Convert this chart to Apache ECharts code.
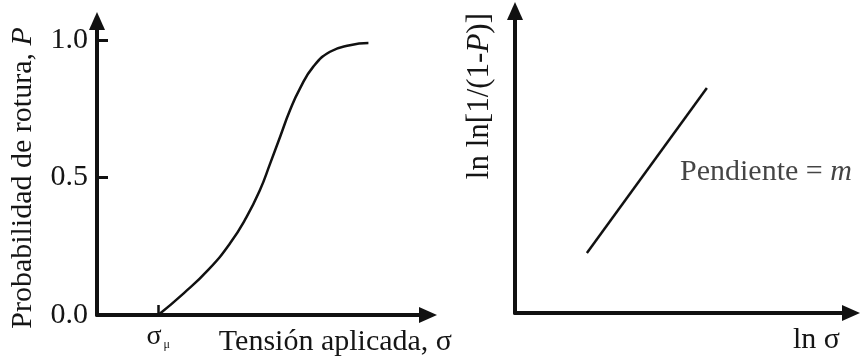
<!DOCTYPE html>
<html>
<head>
<meta charset="utf-8">
<script src="https://cdn.jsdelivr.net/npm/echarts@6/dist/echarts.min.js"></script>
<style>
html,body{margin:0;padding:0;background:#fff;}
#chart{width:860px;height:363px;}
</style>
</head>
<body>
<div id="chart"></div>
<script>
// Left panel: failure probability vs applied stress (arbitrary stress units)
const stressValues = [1.85, 2.61, 3.36, 4.02, 4.52, 4.92, 5.23, 5.53, 5.83, 6.13, 6.53, 7.04, 7.64, 8.20];
const probValues   = [0.00, 0.078, 0.164, 0.261, 0.357, 0.454, 0.551, 0.648, 0.745, 0.824, 0.903, 0.958, 0.982, 0.990];
const probTicks = [0.0, 0.5, 1.0];
const sigmaMu = 1.85;

// Right panel: Weibull plot straight line (arbitrary units)
const lnSigmaValues = [2.14, 5.71];
const lnlnValues = [1.99, 7.45];
const slopeLabelPos = [4.91, 4.67];

const INK = '#111';
const TXT = '#151515';
const SERIF = '"Liberation Serif", "Times New Roman", serif';

const chart = echarts.init(document.getElementById('chart'), null, {renderer: 'canvas'});

const axisLineStyle = {
  show: true,
  symbol: ['none', 'triangle'],
  symbolSize: [16, 18],
  lineStyle: {color: INK, width: 4}
};

const option = {
  backgroundColor: '#fff',
  animation: false,
  grid: [
    {left: 97, right: 432, top: 21, bottom: 48, containLabel: false},
    {left: 515, right: 9, top: 11, bottom: 50, containLabel: false}
  ],
  xAxis: [
    {
      type: 'value', gridIndex: 0, min: 0, max: 10,
      axisLine: axisLineStyle,
      splitLine: {show: false},
      axisTick: {show: true, inside: true, length: 10, customValues: [sigmaMu], lineStyle: {color: INK, width: 2.5}},
      axisLabel: {
        show: true, customValues: [sigmaMu], margin: 8,
        formatter: () => '{s|σ}{m|μ}',
        rich: {
          s: {fontFamily: SERIF, fontSize: 28, color: TXT},
          m: {fontFamily: SERIF, fontSize: 12, color: TXT, verticalAlign: 'bottom', padding: [12, 0, 0, 2]}
        }
      },
      name: 'Tensión aplicada, σ',
      nameLocation: 'end',
      nameGap: 24,
      nameTextStyle: {fontFamily: SERIF, fontSize: 30, color: TXT, align: 'right', verticalAlign: 'top', padding: [12, 0, 0, 0]}
    },
    {
      type: 'value', gridIndex: 1, min: 0, max: 10,
      axisLine: axisLineStyle,
      splitLine: {show: false},
      axisTick: {show: false},
      axisLabel: {show: false},
      name: 'ln σ',
      nameLocation: 'end',
      nameGap: -11,
      nameTextStyle: {fontFamily: SERIF, fontSize: 30, color: TXT, align: 'right', verticalAlign: 'top', padding: [12, 0, 0, 0]}
    }
  ],
  yAxis: [
    {
      type: 'value', gridIndex: 0, min: 0, max: 1.07,
      axisLine: axisLineStyle,
      splitLine: {show: false},
      axisTick: {show: true, inside: true, length: 11, customValues: [0.5, 1.0], lineStyle: {color: INK, width: 3}},
      axisLabel: {
        show: true, customValues: probTicks, margin: 9,
        formatter: (v) => Number(v).toFixed(1),
        fontFamily: SERIF, fontSize: 30, color: TXT
      },
      name: '{n|Probabilidad de rotura, }{i|P}',
      nameLocation: 'middle',
      nameGap: 59,
      nameTextStyle: {
        fontFamily: SERIF, fontSize: 30, color: TXT, padding: [0, 20, 0, 0],
        rich: {
          n: {fontFamily: SERIF, fontSize: 30, color: TXT},
          i: {fontFamily: SERIF, fontSize: 30, color: TXT, fontStyle: 'italic'}
        }
      }
    },
    {
      type: 'value', gridIndex: 1, min: 0, max: 10,
      axisLine: axisLineStyle,
      splitLine: {show: false},
      axisTick: {show: false},
      axisLabel: {show: false},
      name: '{n|ln ln[1/(1-}{i|P}{n|)]}',
      nameLocation: 'end',
      nameRotate: 90,
      nameGap: -2,
      nameTextStyle: {
        fontFamily: SERIF, fontSize: 31, color: TXT, align: 'right', verticalAlign: 'bottom', padding: [0, 0, 20, 0],
        rich: {
          n: {fontFamily: SERIF, fontSize: 31, color: TXT},
          i: {fontFamily: SERIF, fontSize: 31, color: TXT, fontStyle: 'italic'}
        }
      }
    }
  ],
  series: [
    {
      type: 'line', xAxisIndex: 0, yAxisIndex: 0,
      data: stressValues.map((s, i) => [s, probValues[i]]),
      smooth: 0.5, showSymbol: false, symbol: 'none',
      lineStyle: {color: INK, width: 2.5}
    },
    {
      type: 'line', xAxisIndex: 1, yAxisIndex: 1,
      data: lnSigmaValues.map((s, i) => [s, lnlnValues[i]]),
      showSymbol: false, symbol: 'none',
      lineStyle: {color: INK, width: 2.5}
    },
    {
      type: 'scatter', xAxisIndex: 1, yAxisIndex: 1,
      data: [slopeLabelPos],
      symbolSize: 0,
      label: {
        show: true, position: 'right', distance: 0,
        formatter: () => '{n|Pendiente = }{i|m}',
        rich: {
          n: {fontFamily: SERIF, fontSize: 30, color: TXT},
          i: {fontFamily: SERIF, fontSize: 30, color: TXT, fontStyle: 'italic'}
        }
      }
    }
  ]
};
chart.setOption(option);
</script>
</body>
</html>
